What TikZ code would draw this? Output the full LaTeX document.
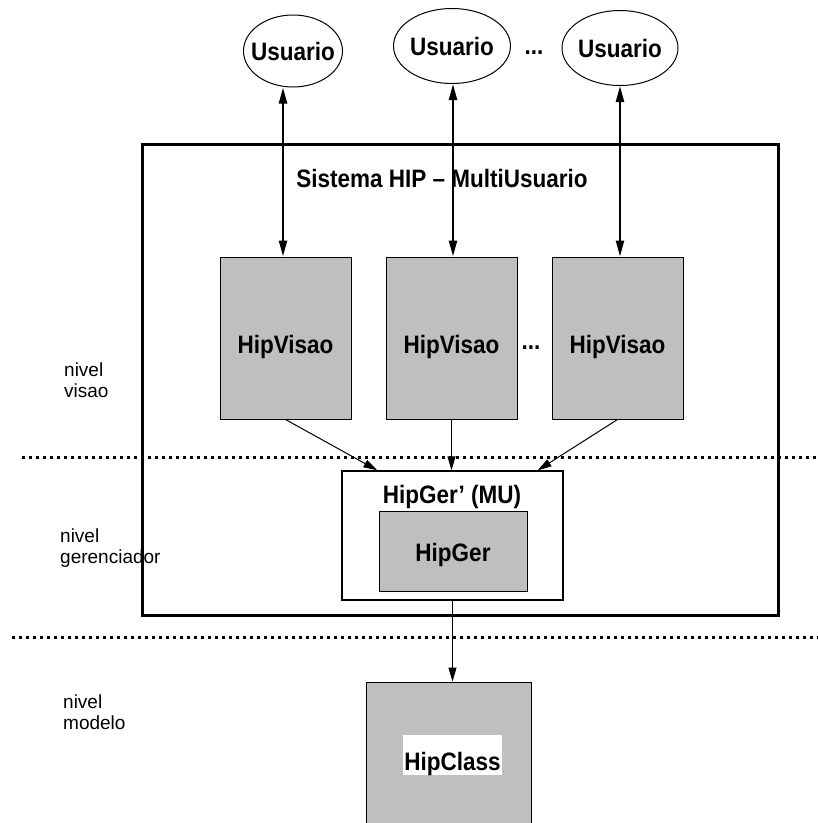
\documentclass[tikz,border=0pt]{standalone}
\usepackage{graphicx}
\usepackage{fontspec}
\setmainfont{Liberation Sans}
\usetikzlibrary{shapes.geometric,arrows.meta,calc}
\definecolor{boxgrey}{RGB}{191,191,191}
% bold labels are set slightly taller than wide
\newcommand{\tallbox}[1]{\scalebox{1}[1.12]{#1}}

\begin{document}
\begin{tikzpicture}[x=1pt,y=-1pt,
  lbl/.style={font=\fontsize{22.5}{24}\selectfont\bfseries},
  side/.style={font=\fontsize{19}{21}\selectfont, align=left, anchor=west, inner sep=0pt},
  user/.style={ellipse, draw, line width=1pt, inner sep=0pt},
  greybox/.style={draw, line width=1pt, fill=boxgrey, inner sep=0pt},
  biarrow/.style={line width=2.3pt,
    {Triangle[length=16pt,width=8pt]}-{Triangle[length=16pt,width=8pt]}},
  flow/.style={line width=1pt, -{Triangle[length=14pt,width=8pt]}},
  levelline/.style={line width=3pt, dash pattern=on 3pt off 4pt},
]
\useasboundingbox (0,0) rectangle (818,823);
\clip (0,0) rectangle (818,823);

% level separators
\draw[levelline] (22,457) -- (818,457);
\draw[levelline] (12,637) -- (818,637);

% level names
\node[side] (lv) at (64,380) {nivel\\visao};
\node[side] (lg) at (60,548) {nivel\\gerenciador};
\node[side] (lm) at (63,712) {nivel\\modelo};

% multi-user system frame
\draw[line width=3pt] (142,144) rectangle (778,615);
\node[lbl] (title) at (442,178) {\tallbox{Sistema HIP – MultiUsuario}};

% users
\node[user, minimum width=99pt, minimum height=72pt,
      label={[lbl]center:\tallbox{Usuario}}] (u1) at (293,51) {};
\node[user, minimum width=117pt, minimum height=75pt,
      label={[lbl]center:\tallbox{Usuario}}] (u2) at (452,46) {};
\node[user, minimum width=116pt, minimum height=75pt,
      label={[lbl]center:\tallbox{Usuario}}] (u3) at (620,48) {};
\node[lbl] (udots) at (534,53) {\tallbox{...}};

% view components
\node[greybox, minimum width=131pt, minimum height=162pt,
      label={[lbl,yshift=-9pt]center:\tallbox{HipVisao}}] (v1) at (285.5,338) {};
\node[greybox, minimum width=131pt, minimum height=162pt,
      label={[lbl,yshift=-9pt]center:\tallbox{HipVisao}}] (v2) at (451.5,338) {};
\node[greybox, minimum width=131pt, minimum height=162pt,
      label={[lbl,yshift=-9pt]center:\tallbox{HipVisao}}] (v3) at (617.5,338) {};
\node[lbl] (vdots) at (531,348) {\tallbox{...}};

% manager
\node[draw, line width=1.3pt, fill=white, minimum width=221pt, minimum height=129pt] (mu) at (452.5,535.5) {};
\node[lbl] (mulbl) at (452,497) {\tallbox{HipGer’ (MU)}};
\node[greybox, minimum width=148pt, minimum height=80pt,
      label={[lbl,yshift=-4pt]center:\tallbox{HipGer}}] (hg) at (453,551) {};

% model
\node[draw, line width=1pt, fill=boxgrey, minimum width=165pt, minimum height=168pt] (hc) at (448.5,766) {};
\node[lbl, fill=white, inner xsep=1pt, inner ysep=0pt, text height=35pt, text depth=5pt,
      anchor=base] (hcl) at (452.5,770) {\tallbox{HipClass}};

% user <-> view links
\draw[biarrow] (u1.south -| v1.north) ++(-2.5,0) -- ([xshift=-2.5pt]v1.north);
\draw[biarrow] (u2.south -| v2.north) ++(1.5,0) -- ([xshift=1.5pt]v2.north);
\draw[biarrow] (u3.south -| v3.north) ++(2.5,0) -- ([xshift=2.5pt]v3.north);

% view -> manager
\draw[flow] (v1.south) -- ([xshift=36pt]mu.north west);
\draw[flow] (v2.south) -- (v2.south |- mu.north);
\draw[flow] (v3.south) -- ([xshift=-26pt]mu.north east);

% manager -> model
\draw[flow] (mu.south) -- (mu.south |- hc.north);
\end{tikzpicture}
\end{document}
